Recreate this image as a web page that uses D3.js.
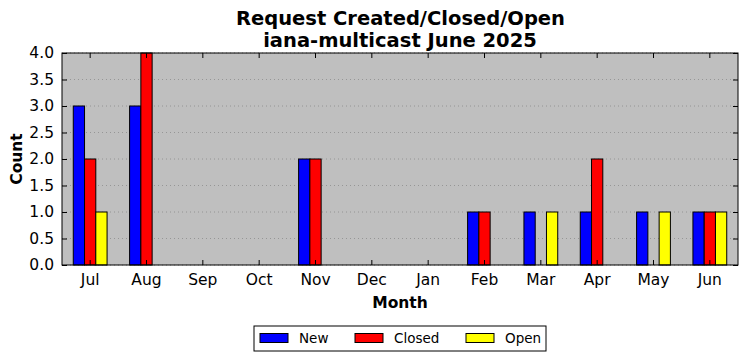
<!DOCTYPE html>
<html>
<head>
<meta charset="utf-8">
<script src="https://cdn.jsdelivr.net/npm/d3@7"></script>
<style>
  body { margin: 0; background: #fff; }
  text { font-family: "DejaVu Sans", sans-serif; }
</style>
</head>
<body>
<div id="chart"></div>
<script>
const months = ['Jul', 'Aug', 'Sep', 'Oct', 'Nov', 'Dec', 'Jan', 'Feb', 'Mar', 'Apr', 'May', 'Jun']
const newVals = [3, 3, 0, 0, 2, 0, 0, 1, 1, 1, 1, 1]
const closedVals = [2, 4, 0, 0, 2, 0, 0, 1, 0, 2, 0, 1]
const openVals = [1, 0, 0, 0, 0, 0, 0, 0, 1, 0, 1, 1]
const yTicks = [0, 0.5, 1, 1.5, 2, 2.5, 3, 3.5, 4]

const series = [
  { name: 'New', values: newVals, color: '#0000ff' },
  { name: 'Closed', values: closedVals, color: '#ff0000' },
  { name: 'Open', values: openVals, color: '#ffff00' }
]

const width = 747
const height = 361
const margin = { top: 53, right: 9, bottom: 96, left: 62 }
const plotW = width - margin.left - margin.right
const plotH = height - margin.top - margin.bottom

const svg = d3.select('#chart').append('svg')
  .attr('width', width)
  .attr('height', height)

// title
svg.append('text')
  .attr('x', margin.left + plotW / 2 + 0.5).attr('y', 25)
  .attr('text-anchor', 'middle')
  .style('font-size', '19.5px').style('font-weight', 'bold')
  .text('Request Created/Closed/Open')
svg.append('text')
  .attr('x', margin.left + plotW / 2).attr('y', 47)
  .attr('text-anchor', 'middle')
  .style('font-size', '19.5px').style('font-weight', 'bold')
  .text('iana-multicast June 2025')

const g = svg.append('g').attr('transform', `translate(${margin.left},${margin.top})`)

const x = d3.scaleBand().domain(months).range([0, plotW])
const y = d3.scaleLinear().domain([0, 4]).range([plotH, 0])
const barW = x.bandwidth() * 0.2

g.append('rect')
  .attr('width', plotW).attr('height', plotH)
  .attr('fill', '#bfbfbf')

// grid
g.selectAll('.grid')
  .data(yTicks)
  .join('line')
  .attr('class', 'grid')
  .attr('x1', 0).attr('x2', plotW)
  .attr('y1', d => y(d)).attr('y2', d => y(d))
  .attr('stroke', '#8c8c8c')
  .attr('stroke-width', 0.8)
  .attr('stroke-dasharray', '1,3')

// bars
series.forEach((s, i) => {
  g.selectAll('.bar' + i)
    .data(s.values)
    .join('rect')
    .attr('class', 'bar' + i)
    .attr('x', (d, j) => x(months[j]) + x.bandwidth() / 2 + (i - 1.5) * barW)
    .attr('y', d => y(d))
    .attr('width', barW)
    .attr('height', d => plotH - y(d))
    .attr('fill', s.color)
    .attr('stroke', '#000')
    .attr('stroke-width', 1)
})

// axes with inward ticks
const tickLen = 5
const xAxisB = d3.axisBottom(x).tickSizeInner(-tickLen).tickSizeOuter(0).tickPadding(9)
const xAxisT = d3.axisTop(x).tickSizeInner(-tickLen).tickSizeOuter(0).tickFormat('')
const yAxisL = d3.axisLeft(y).tickValues(yTicks).tickFormat(d3.format('.1f')).tickSizeInner(-tickLen).tickSizeOuter(0).tickPadding(8)
const yAxisR = d3.axisRight(y).tickValues(yTicks).tickSizeInner(-tickLen).tickSizeOuter(0).tickFormat('')

const styleAxis = sel => {
  sel.select('.domain').remove()
  sel.selectAll('text').style('font-size', '15.5px').attr('fill', '#000')
    .style('font-family', '"DejaVu Sans", sans-serif')
  sel.selectAll('line').attr('stroke', '#000')
}

g.append('g').attr('transform', `translate(0,${plotH})`).call(xAxisB).call(styleAxis)
g.append('g').call(xAxisT).call(styleAxis)
g.append('g').call(yAxisL).call(styleAxis)
g.append('g').attr('transform', `translate(${plotW},0)`).call(yAxisR).call(styleAxis)

g.append('rect')
  .attr('width', plotW).attr('height', plotH)
  .attr('fill', 'none').attr('stroke', '#000').attr('stroke-width', 1)

// axis labels
svg.append('text')
  .attr('x', margin.left + plotW / 2).attr('y', 308)
  .attr('text-anchor', 'middle')
  .style('font-size', '15.5px').style('font-weight', 'bold')
  .text('Month')
svg.append('text')
  .attr('transform', `translate(22,${margin.top + plotH / 2}) rotate(-90)`)
  .attr('text-anchor', 'middle')
  .style('font-size', '15.5px').style('font-weight', 'bold')
  .text('Count')

// legend
const legend = svg.append('g').attr('transform', 'translate(254,326)')
legend.append('rect')
  .attr('width', 292).attr('height', 25)
  .attr('fill', '#fff').attr('stroke', '#000').attr('stroke-width', 1)
const legX = [6, 101, 212]
series.forEach((s, i) => {
  legend.append('rect')
    .attr('x', legX[i]).attr('y', 7.5)
    .attr('width', 28).attr('height', 9)
    .attr('fill', s.color).attr('stroke', '#000')
  legend.append('text')
    .attr('x', legX[i] + 39).attr('y', 17)
    .style('font-size', '13.5px')
    .text(s.name)
})
</script>
</body>
</html>
